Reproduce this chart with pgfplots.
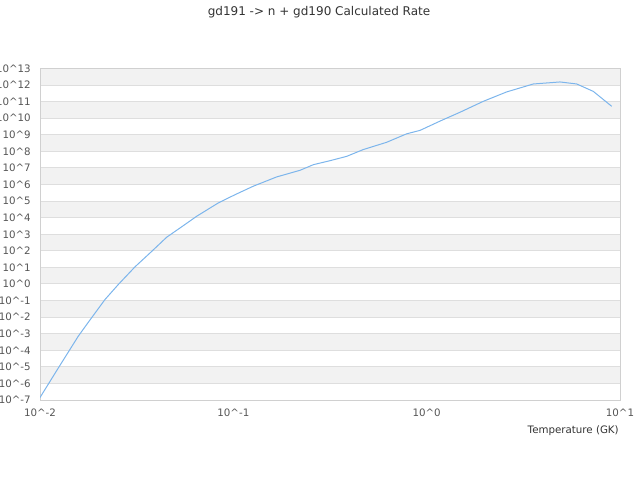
\documentclass[border=0pt]{standalone}
\usepackage{pgfplots}
\pgfplotsset{compat=1.18}
\usepackage{fontspec}
\setmainfont{DejaVu Sans}
\definecolor{bandgray}{HTML}{F2F2F2}
\definecolor{gridgray}{HTML}{DEDEDE}
\definecolor{framegray}{HTML}{D0D0D0}
\definecolor{linecol}{HTML}{7CB5EC}
\definecolor{ticktext}{HTML}{555555}
\definecolor{titletext}{HTML}{333333}
\newcommand\ct{\textasciicircum}
% one grey band between two decades
\newcommand\band[2]{\addplot[draw=none, fill=bandgray, on layer=axis background, forget plot]
  coordinates {(0.01,#1) (10,#1) (10,#2) (0.01,#2)} -- cycle;}

\begin{document}
\begin{tikzpicture}
\begin{axis}[
    set layers,
    at={(30pt,60pt)}, anchor=south west,
    scale only axis, width=435pt, height=248.6pt,
    xmode=log, ymode=log,
    xmin=0.01, xmax=10, ymin=1e-7, ymax=1e13,
    xtick={0.01,0.1,1,10},
    xticklabels={10\ct-2,10\ct-1,10\ct0,10\ct1},
    ytick={1e-7,1e-6,1e-5,1e-4,1e-3,1e-2,1e-1,1,1e1,1e2,1e3,1e4,1e5,1e6,1e7,1e8,1e9,1e10,1e11,1e12,1e13},
    yticklabels={10\ct-7,10\ct-6,10\ct-5,10\ct-4,10\ct-3,10\ct-2,10\ct-1,10\ct0,10\ct1,10\ct2,10\ct3,10\ct4,10\ct5,10\ct6,10\ct7,10\ct8,10\ct9,10\ct10,10\ct11,10\ct12,10\ct13},
    minor xtick={}, minor ytick={},
    tick style={draw=none},
    major tick length=0pt, minor tick length=0pt,
    ymajorgrids, major grid style={gridgray, line width=0.75pt},
    axis line style={framegray, line width=0.75pt},
    tick label style={font=\fontsize{7.7}{9}\selectfont, text=ticktext, inner sep=0pt},
    xticklabel style={anchor=center, yshift=-9.75pt},
    yticklabel style={anchor=east, xshift=-6.75pt},
]
\band{1e-6}{1e-5}
\band{1e-4}{1e-3}
\band{1e-2}{1e-1}
\band{1}{1e1}
\band{1e2}{1e3}
\band{1e4}{1e5}
\band{1e6}{1e7}
\band{1e8}{1e9}
\band{1e10}{1e11}
\band{1e12}{1e13}
\addplot[linecol, line width=0.75pt] coordinates {
(0.01,1.41e-7) (0.01245,8.7e-6) (0.01578,7.1e-4) (0.01778,4.9e-3)
(0.02168,0.115) (0.02541,0.93) (0.03097,10.7) (0.03784,93)
(0.04519,661) (0.05405,2818) (0.06471,1.23e4) (0.08356,7.76e4)
(0.1021,2.45e5) (0.1268,7.94e5) (0.1675,2.88e6) (0.2213,7.24e6)
(0.2594,1.58e7) (0.3162,2.75e7) (0.3855,5.01e7) (0.4699,1.29e8)
(0.6209,3.55e8) (0.7880,1.15e9) (0.9245,1.86e9) (1.173,6.76e9)
(1.486,2.29e10) (1.963,1.05e11) (2.594,3.89e11) (3.562,1.17e12)
(4.898,1.55e12) (5.973,1.17e12) (7.278,4.17e11) (9.06,5.25e10)
};
\end{axis}
\node[text=titletext, font=\fontsize{9}{11}\selectfont, inner sep=0pt] at (239.25pt,351pt) {gd191 -> n + gd190 Calculated Rate};
\node[text=titletext, font=\fontsize{7.7}{9}\selectfont, inner sep=0pt, anchor=east] at (464.25pt,36.75pt) {Temperature (GK)};
\pgfresetboundingbox
\useasboundingbox (0pt,0pt) rectangle (480pt,360pt);
\end{tikzpicture}
\end{document}
